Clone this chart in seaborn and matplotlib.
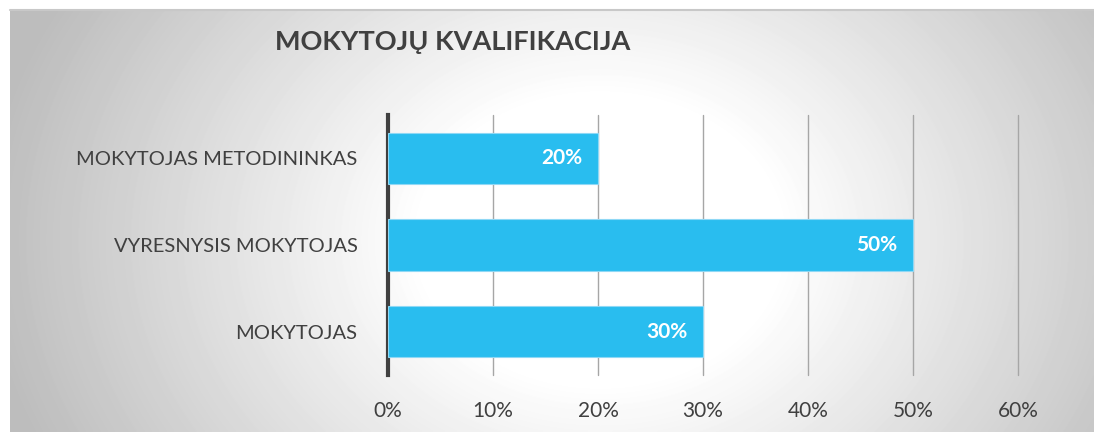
import numpy as np
import pandas as pd
import matplotlib.pyplot as plt
import seaborn as sns

# Data
categories = ["MOKYTOJAS METODININKAS", "VYRESNYSIS MOKYTOJAS", "MOKYTOJAS"]
values = [0.20, 0.50, 0.30]
xticks = [0, 0.1, 0.2, 0.3, 0.4, 0.5, 0.6]
title = "MOKYTOJŲ KVALIFIKACIJA"

df = pd.DataFrame({"Kategorija": categories, "Dalis": values})

sns.set_theme(style="white")
plt.rcParams['font.family'] = ['Lato', 'DejaVu Sans']

W, H = 1094, 432
fig = plt.figure(figsize=(W / 100, H / 100), dpi=100)
fig.patch.set_facecolor("white")

# radial grey background behind the chart
bg = fig.add_axes([10 / W, 0, 1 - 10 / W, 1 - 10 / H], zorder=0)
yy, xx = np.mgrid[0:422, 0:1084]
d = np.sqrt(((xx - 590) / 600) ** 2 + ((yy - 230) / 480) ** 2)
shade = np.clip(1.0 - 0.25 * np.clip(d - 0.3, 0, None) / 0.7, 0.74, 1.0)
bg.imshow(shade, cmap="gray", vmin=0, vmax=1, aspect="auto", interpolation="bilinear")
bg.axis("off")
fig.add_artist(plt.Line2D([10 / W, 1], [1 - 10 / H, 1 - 10 / H], color="#c8c8c8", lw=1.5, transform=fig.transFigure))

ax = fig.add_axes([388 / W, 57 / H, 630 / W, 260 / H], zorder=1)
ax.patch.set_alpha(0)
sns.barplot(data=df, y="Kategorija", x="Dalis", color="#29BDEF", saturation=1,
            width=0.59, orient="h", ax=ax, zorder=3, edgecolor="#8fd8f5", linewidth=0.8)

for bar, v in zip(ax.patches, values):
    ax.text(bar.get_width() - 0.015, bar.get_y() + bar.get_height() / 2, f"{v:.0%}",
            ha="right", va="center", color="white", fontsize=15, fontweight="bold", zorder=4)

ax.set_xlim(0, 0.6)
ax.set_ylim(2.5, -0.5)
ax.set_xticks(xticks)
ax.set_xticklabels([f"{t:.0%}" for t in xticks])
ax.xaxis.grid(True, color="#a6a6a6", lw=1)
for gl in ax.get_xgridlines():
    gl.set_clip_on(False)
ax.set_axisbelow(True)
ax.tick_params(axis="x", length=0, pad=19, labelsize=15, labelcolor="#404040")
ax.tick_params(axis="y", length=0, pad=22, labelsize=14.5, labelcolor="#404040")
ax.set_xlabel("")
ax.set_ylabel("")
for s in ["top", "right", "bottom"]:
    ax.spines[s].set_visible(False)
ax.spines["left"].set_color("#404040")
ax.spines["left"].set_linewidth(3)

fig.text(275 / W, 1 - 42 / H, title, ha="left", va="center", fontsize=19.5,
         fontweight="bold", color="#404040")

fig.savefig("out.png", dpi=100)
